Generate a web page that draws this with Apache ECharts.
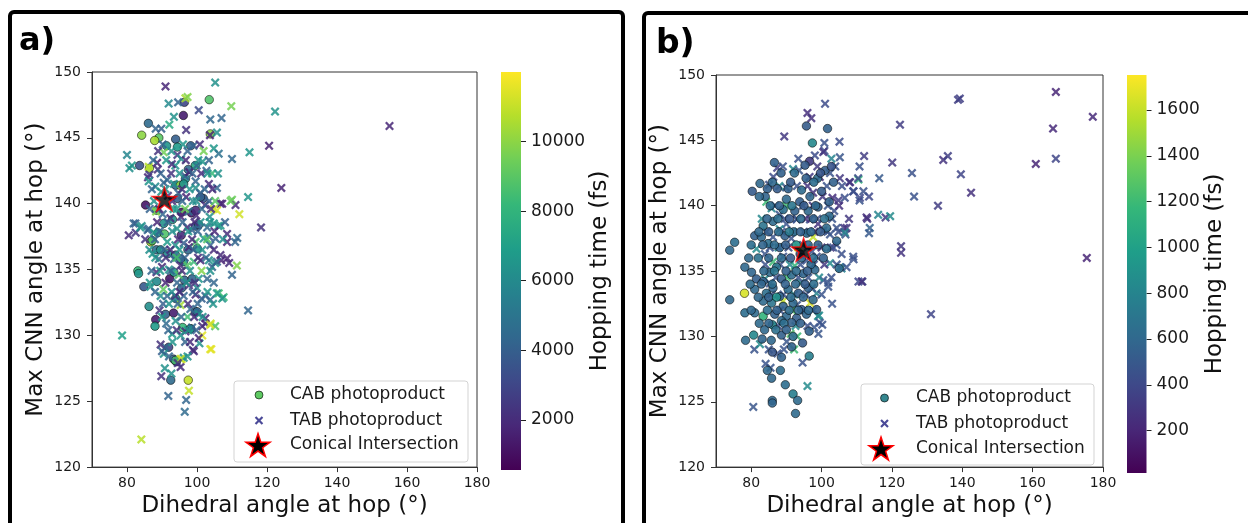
<!DOCTYPE html>
<html>
<head>
<meta charset="utf-8">
<script src="https://cdn.jsdelivr.net/npm/echarts@6/dist/echarts.min.js"></script>
<style>
html,body{margin:0;padding:0;background:#fff;}
#chart{width:1248px;height:523px;}
</style>
</head>
<body>
<div id="chart"></div>
<script>
// ---------- DATA ----------
const xTicks = [80, 100, 120, 140, 160, 180];
const yTicks = [120, 125, 130, 135, 140, 145, 150];
const cbATicks = [2000, 4000, 6000, 8000, 10000];
const cbBTicks = [200, 400, 600, 800, 1000, 1200, 1400, 1600];
const cbARange = [560, 12000];
const cbBRange = [15, 1753];
const legendNames = ['CAB photoproduct', 'TAB photoproduct', 'Conical Intersection'];

// Panel a: [dihedral, max CNN angle, hopping time]
const cabA = [
[103.5,147.9,8800],[96.4,147.7,3000],[96.1,146.7,1500],[86.1,146.1,4500],[84.2,145.2,10000],[89.1,145.0,9000],[87.9,144.8,10500],[103.8,145.3,10000],[93.9,144.9,4000],[91.3,144.4,6500],[98.2,144.4,4200],[94.4,144.3,6800],[83.6,142.9,3500],[86.4,142.7,10500],[99.5,142.9,7500],[97.5,142.6,4500],[85.3,139.9,1200],[88.5,139.5,8500],[95.6,139.35,1000],[101.8,140.4,3800],[93.9,141.4,4200],[96.7,141.9,6500],[95.2,141.4,10000],[99.5,138.3,4000],[88.8,137.8,6000],[90.7,137.7,8800],[86.8,137.1,10500],[88.4,136.5,4500],[91.6,136.2,6200],[93.9,136.1,4300],[96.1,135.6,6800],[100.1,136.6,6400],[83.1,134.9,8200],[83.3,134.7,6500],[84.8,133.7,3800],[88.5,134.1,6000],[92.2,134.3,1200],[95.6,133.6,4200],[86.3,132.2,6200],[88.2,131.2,1500],[91.0,131.6,4200],[93.3,131.7,1500],[99.5,131.8,4000],[88.0,130.7,6800],[95.9,130.6,8200],[98.2,130.5,6500],[91.9,129.1,3000],[93.3,128.2,4000],[94.1,128.0,1800],[92.5,126.6,4500],[97.5,126.6,11000],[94.4,140.4,4000],[98.4,139.3,1500],[93.0,138.8,6500],[95.5,137.6,2000],[97.4,136.5,4500],[93.4,134.8,6400],[96.4,134.2,4300],[93.9,132.8,6200],[90.5,138.5,6400],[87.2,137.2,8600],[89.6,136.5,6300],[95.3,135.8,4400],[98.6,134.3,4200],[100.0,131.8,4300],[98.1,130.5,6600],[100.5,138.4,4300],[101.0,140.5,4100],[96.2,141.5,6400],[99.6,139.5,1900],[93.8,128.1,8600]
];
const tabA = [
[105.2,149.2,6300],[91.0,148.9,1800],[96.7,148.0,10500],[97.3,148.1,9800],[91.9,147.6,6000],[94.6,147.7,4200],[100.5,147.1,3200],[109.8,147.4,9600],[122.3,147.0,6400],[93.4,146.6,6300],[103.8,146.4,4400],[107.0,146.5,4300],[88.2,145.7,4200],[89.8,145.7,4000],[92.1,146.0,7500],[96.9,145.6,2200],[105.7,145.4,6200],[103.7,145.2,1800],[155.0,145.9,1800],[120.6,144.4,1600],[80.0,143.7,5800],[104.8,144.2,6600],[106.2,143.8,4800],[110.0,143.4,4400],[115.0,143.9,6500],[99.0,144.4,4200],[90.5,143.9,9500],[94.4,143.7,2400],[80.7,142.7,6200],[81.4,142.9,6600],[86.2,142.8,10800],[88.6,143.1,1600],[88.8,142.6,2200],[86.0,142.0,1800],[86.4,142.2,2500],[91.5,141.8,4200],[93.8,142.9,6400],[101.6,143.2,6600],[104.3,142.3,8200],[106.0,142.3,6300],[96.6,142.1,4000],[99.6,141.7,4300],[88.1,141.3,6000],[105.7,141.2,4300],[124.1,141.2,1700],[110.0,140.3,9400],[114.6,140.5,6500],[106.7,140.0,1800],[111.0,139.9,1900],[112.1,139.2,11200],[118.3,138.2,2200],[104.8,139.6,11000],[82.4,138.5,4000],[80.5,137.6,2000],[82.5,137.8,2300],[84.2,138.3,6200],[85.9,138.0,4300],[106.1,138.3,6400],[108.6,137.1,1800],[111.5,137.4,4500],[110.9,137.1,4200],[103.4,137.5,4000],[111.4,135.3,9800],[109.2,135.5,2000],[106.9,135.7,1700],[105.2,135.5,6400],[110.0,134.6,4200],[114.6,131.9,4300],[106.2,133.2,8500],[107.6,132.9,8200],[103.8,132.7,4200],[101.3,132.8,4000],[102.4,130.9,2100],[103.9,130.9,11200],[105.2,130.7,8800],[101.5,130.0,11500],[100.7,129.4,6300],[78.6,130.0,7000],[104.1,128.95,11600],[98.8,128.9,2300],[91.0,129.1,4300],[90.5,128.6,6300],[95.6,128.2,11300],[95.3,127.6,1900],[90.8,127.5,6300],[89.8,126.9,2200],[97.7,125.8,11000],[96.9,125.1,4300],[91.8,125.4,4200],[96.5,124.2,4500],[84.1,122.1,10800],
[86.2,141.7,6500],[90.5,141.6,4300],[93.4,141.5,6400],[99.6,141.2,6200],[103.4,141.5,1900],[107.2,140.0,1700],[109.6,140.2,9300],[105.7,139.5,11400],[81.9,138.5,4100],[83.8,138.2,6400],[86.2,138.1,4200],[87.7,137.8,6600],[92.4,138.9,2000],[94.3,138.1,6300],[97.2,138.2,1700],[98.6,138.0,4200],[101.0,138.6,6200],[102.9,138.2,4400],[104.8,138.5,6500],[106.7,138.35,6800],[108.6,137.7,1900],[105.3,137.35,4100],[103.8,136.85,4300],[101.9,137.35,6600],[99.6,137.1,8600],[97.7,136.7,1800],[96.2,137.0,4000],[93.8,136.85,6200],[91.5,137.1,6700],[93.4,135.8,4300],[95.3,135.3,2100],[97.2,135.3,8900],[99.1,135.6,8300],[101.0,135.7,2000],[103.4,135.7,6300],[105.7,135.6,4200],[106.7,136.1,1900],[108.6,135.85,1700],[104.3,135.2,4100],[90.0,135.2,1900],[92.0,135.0,6400],[94.8,134.6,8800],[100.5,134.3,6500],[102.9,134.3,4300],[97.7,133.8,2200],[100.0,133.6,6100],[89.6,133.0,6200],[91.5,133.0,4200],[93.8,133.0,2300],[96.2,133.0,4300],[99.6,133.1,1900],[102.4,133.0,4100],[105.7,133.2,6600],[107.2,132.8,6400],[95.3,132.3,10400],[98.1,132.0,4300],[100.5,131.6,6300],[102.4,131.3,1800],[103.8,130.8,11300],[101.5,130.7,2000],[98.6,130.6,4200],[96.7,130.3,2100],[95.3,130.0,6500],[92.9,130.1,6700],[100.5,129.8,1800],[103.8,128.95,11500],[99.1,128.8,1900],[96.2,128.3,6400],[89.6,129.3,2200],[90.0,128.8,4000],[95.3,128.2,11000],
[92.8,143.0,2000],[95.5,143.4,6200],[97.8,142.4,1700],[99.9,142.9,4400],[102.7,142.5,4100],[89.8,140.9,6500],[91.7,140.6,2400],[94.7,140.8,4200],[96.9,140.5,1700],[98.8,140.2,6100],[100.9,140.8,4000],[102.3,139.9,2100],[88.3,139.4,9800],[90.2,139.2,4300],[93.3,139.6,6800],[95.4,139.0,2000],[97.6,139.4,4400],[99.8,139.1,1900],[103.6,139.0,6300],[87.3,136.2,6400],[89.1,135.8,4200],[88.4,134.8,2000],[86.7,133.7,6500],[90.4,133.5,9200],[89.3,131.9,2300],[91.2,130.9,4500],[93.9,131.1,6200],[97.3,131.4,8400],[92.7,127.1,6300],[94.5,127.9,2300],
[90.2,144.5,4300],[96.0,144.5,6500],[100.8,144.5,2100],[88.9,144.0,2200],[92.7,144.0,6400],[97.3,144.0,4100],[101.9,144.0,9600],[87.5,143.3,4500],[91.2,143.3,6600],[96.8,143.3,1900],[100.4,143.3,6300],[103.4,143.3,4200],[89.6,142.3,4100],[92.6,142.3,2300],[95.0,142.3,6300],[98.7,142.3,4200],[101.2,142.3,2000],[103.0,142.3,6500],[87.1,141.1,4300],[91.0,141.1,6200],[95.7,141.1,2200],[97.9,141.1,6400],[102.2,141.1,4300],[104.4,141.1,1900],[87.7,140.2,6300],[92.9,140.2,1900],[95.8,140.2,4400],[99.8,140.2,6200],[103.5,140.2,4100],[105.2,140.2,9000],[86.5,139.6,4100],[89.2,139.6,2100],[94.2,139.6,6600],[96.6,139.6,9400],[101.4,139.6,4400],[104.0,139.6,2000],[88.6,138.6,1800],[91.6,138.6,4200],[95.9,138.6,4300],[99.3,138.6,2000],[103.7,138.6,6300],[108.0,138.6,4100],[89.3,137.9,4300],[92.9,137.9,6200],[97.5,137.9,6400],[100.2,137.9,4200],[105.0,137.9,1800],[85.2,137.3,2200],[88.0,137.3,4100],[94.6,137.3,2000],[98.6,137.3,1900],[102.9,137.3,8900],[107.4,137.3,6200],[86.4,136.5,6200],[90.6,136.5,4200],[92.4,136.5,1900],[95.0,136.5,6500],[99.0,136.5,4300],[101.5,136.5,6300],[104.8,136.5,2000],[88.1,135.9,6400],[91.1,135.9,2200],[94.2,135.9,8600],[96.5,135.9,4100],[100.3,135.9,2100],[102.6,135.9,4300],[87.0,134.9,4200],[89.5,134.9,6600],[92.5,134.9,4300],[95.7,134.9,2000],[98.0,134.9,6200],[101.3,134.9,9800],[103.8,134.9,6300],[86.5,134.0,6400],[91.0,134.0,1800],[94.3,134.0,4200],[97.0,134.0,6500],[99.4,134.0,2300],[104.8,134.0,4300],[88.0,133.3,4300],[92.8,133.3,6200],[95.0,133.3,2000],[98.8,133.3,4100],[103.0,133.3,6600],[90.3,132.4,4000],[92.0,132.4,6300],[94.5,132.4,4200],[97.4,132.4,2100],[100.2,132.4,4300],[104.6,132.4,6400],[90.0,131.4,6600],[95.5,131.4,4300],[99.2,131.4,2000],[101.6,131.4,6200],[91.8,130.4,4200],[94.2,130.4,2200],[97.5,130.4,6300],[99.8,130.4,4100],[93.0,129.5,6400],[96.6,129.5,4200],[98.0,129.5,1900],[92.0,128.4,4300],[97.3,128.4,6300]
];
const starA = [[90.7, 140.35]];

// Panel b
const cabB = [
[95.7,146.1,520],[101.7,145.9,560],[97.4,144.8,820],[86.6,143.3,560],[96.6,143.4,320],[95.3,143.1,520],[101.0,142.7,540],[102.8,143.0,470],[98.9,142.1,620],[95.6,142.1,560],[82.5,141.7,600],[84.6,141.3,560],[80.3,141.1,520],[84.0,140.7,580],[82.3,140.7,600],[87.4,141.3,520],[90.5,141.3,560],[94.3,141.2,620],[93.8,140.3,540],[96.7,140.7,580],[90.0,140.5,600],[100.0,141.1,520],[89.1,139.7,640],[92.4,139.6,560],[96.2,139.6,600],[102.2,140.3,560],[102.2,139.2,620],[83.4,138.45,680],[86.2,138.8,620],[81.0,137.7,560],[82.9,137.6,600],[75.3,137.2,640],[73.9,136.6,600],[84.8,137.1,650],[88.1,136.8,560],[101.4,136.7,640],[104.3,137.3,600],[78.2,135.3,600],[80.1,134.9,580],[81.5,134.4,540],[85.3,134.9,620],[87.2,135.3,680],[83.4,134.2,560],[88.6,134.4,540],[91.5,134.7,620],[94.8,134.8,580],[98.1,135.1,600],[81.0,133.6,600],[78.1,133.3,1650],[73.9,132.8,600],[84.3,133.3,650],[86.2,133.7,580],[88.1,133.05,560],[90.5,133.6,620],[93.4,133.3,540],[96.2,133.7,560],[97.6,132.8,600],[83.4,132.7,620],[85.8,132.55,680],[89.1,132.3,560],[91.9,132.55,600],[94.3,132.05,520],[78.2,131.8,640],[81.0,131.8,620],[83.4,131.55,1150],[86.7,131.7,560],[90.0,131.55,600],[92.9,131.4,540],[95.7,131.7,580],[98.6,132.05,560],[88.6,131.2,620],[91.5,131.05,560],[86.0,130.9,820],[80.7,130.1,820],[78.4,129.7,620],[83.1,129.8,580],[85.7,129.7,600],[88.6,130.1,560],[91.9,130.0,620],[96.5,130.4,560],[91.5,129.2,560],[94.6,129.5,520],[86.0,128.8,480],[88.6,128.4,560],[96.5,128.5,760],[84.6,127.4,600],[88.3,127.4,640],[85.8,126.8,600],[89.7,126.3,640],[91.9,125.6,760],[93.2,125.1,620],[86.0,125.1,600],[86.0,124.9,580],[92.6,124.1,620],[105.0,135.2,620],[101.4,138.3,620],[99.0,139.9,560],[92.1,138.0,600],[95.8,137.9,620],[89.6,137.7,560],[93.9,136.3,540],[97.0,135.5,600],
[88.5,142.5,560],[92.3,142.5,620],[99.7,142.5,480],[86.0,141.8,600],[91.2,141.8,520],[97.8,141.8,640],[103.4,141.8,560],[85.4,140.0,620],[88.0,140.0,560],[91.6,140.0,700],[95.0,140.0,520],[98.3,140.0,600],[84.5,139.0,580],[87.6,139.0,640],[90.9,139.0,500],[94.1,139.0,620],[97.7,139.0,560],[100.8,139.0,660],[82.2,138.0,600],[85.0,138.0,540],[87.8,138.0,620],[90.8,138.0,720],[94.0,138.0,560],[97.0,138.0,600],[99.7,138.0,520],[80.0,137.0,640],[83.3,137.0,580],[86.6,137.0,620],[89.8,137.0,540],[92.8,137.0,900],[96.2,137.0,600],[99.0,137.0,560],[79.3,136.0,600],[82.0,136.0,660],[85.0,136.0,580],[88.6,136.0,620],[91.2,136.0,520],[94.3,136.0,600],[97.7,136.0,640],[100.5,136.0,560],[83.6,135.0,600],[86.6,135.0,700],[89.9,135.0,560],[92.8,135.0,620],[96.0,135.0,540],[79.7,134.0,620],[82.9,134.0,580],[86.0,134.0,640],[89.7,134.0,560],[92.6,134.0,600],[95.3,134.0,520],[97.8,134.0,640],[82.0,133.0,600],[85.0,133.0,560],[87.2,133.0,900],[91.3,133.0,620],[94.8,133.0,580],[80.0,132.0,600],[84.6,132.0,640],[87.3,132.0,560],[90.8,132.0,620],[93.4,132.0,580],[96.3,132.0,600],[82.3,131.0,620],[85.0,131.0,580],[89.3,131.0,640],[94.0,131.0,560],[83.8,130.5,600],[87.0,130.5,660],[90.0,130.5,560]
];
const tabB = [
[166.6,148.7,200],[138.8,148.1,350],[139.3,148.2,350],[101.0,147.8,420],[177.1,146.8,220],[96.0,147.1,250],[97.1,146.7,260],[122.3,146.2,330],[165.8,145.9,220],[89.4,145.3,300],[105.1,144.9,420],[100.8,144.8,450],[100.8,144.2,430],[166.6,143.6,380],[160.9,143.2,200],[134.6,143.5,280],[135.9,143.8,350],[120.1,143.3,300],[112.1,143.8,330],[110.8,143.0,450],[125.7,142.5,450],[139.6,142.4,380],[116.4,142.1,500],[110.5,142.0,1150],[107.9,141.8,350],[142.5,141.0,260],[126.3,140.7,460],[113.5,140.7,400],[110.8,140.4,470],[109.1,141.1,430],[133.1,140.0,330],[116.1,139.3,800],[118.2,139.1,300],[119.5,139.2,850],[113.0,139.0,300],[113.7,138.3,550],[113.5,137.9,500],[106.4,138.3,300],[106.8,137.8,480],[122.6,136.9,300],[122.6,136.4,280],[175.4,136.0,200],[109.1,135.9,450],[105.7,136.3,440],[105.7,135.2,800],[110.5,134.2,400],[111.6,134.2,420],[101.9,134.1,480],[103.0,132.5,460],[131.1,131.7,380],[99.3,131.6,850],[100.2,130.9,470],[97.9,130.7,480],[80.9,129.0,470],[96.0,126.2,850],[80.6,124.6,480],
[93.4,143.6,450],[98.1,143.85,420],[100.5,144.1,280],[102.8,143.6,800],[105.2,143.7,480],[91.9,142.8,820],[93.6,142.7,480],[99.5,142.2,250],[102.4,142.5,470],[105.2,142.1,300],[108.1,141.8,280],[110.4,142.1,420],[111.9,141.1,450],[109.0,141.1,430],[106.6,140.6,440],[110.9,140.6,400],[112.8,139.1,250],[107.1,138.3,280],[106.6,137.95,800],[104.3,138.3,450],[102.4,137.8,470],[100.5,138.1,430],[97.6,137.6,1600],[99.0,138.6,260],[96.7,138.95,450],[92.9,138.95,430],[90.0,138.6,460],[88.1,138.2,820],[86.2,137.6,470],[81.5,136.7,850],[83.9,136.3,480],[86.2,135.7,1200],[89.1,136.1,450],[92.4,135.4,1150],[95.7,135.8,460],[98.6,136.1,440],[102.4,135.6,830],[105.2,135.3,800],[107.1,135.3,470],[109.0,136.1,450],[111.4,134.2,260],[100.5,134.3,460],[101.9,133.8,470],[98.6,133.3,800],[96.7,132.55,1650],[93.0,132.4,480],[89.1,132.7,1600],[83.9,134.4,830],[85.3,134.05,470],[99.0,131.55,840],[99.5,131.05,460],[84.3,140.3,1200],[85.8,139.8,820],[88.1,139.3,470],
[86.3,142.2,420],[87.4,142.9,350],[85.1,141.6,450],[89.9,141.4,480],[96.6,142.2,300],[97.6,141.0,280],[100.3,140.7,300],[103.1,140.6,250],[104.8,140.4,320],[103.6,139.6,450],[104.3,137.0,460],[102.6,136.8,300],[91.4,137.5,460],[94.7,137.0,480],[97.3,136.5,470],[94.1,134.1,820],[97.3,133.7,460],[91.2,130.2,1250],[93.1,130.0,1200],[90.1,129.6,480],[84.1,127.9,470],[85.5,127.6,480],[87.5,128.7,460],[82.5,129.4,850],[94.6,128.0,460],[99.1,130.2,480],
[89.0,143.0,450],[98.8,143.0,300],[103.9,143.0,460],[88.0,141.5,820],[93.0,141.5,450],[96.0,141.5,280],[101.5,141.5,470],[105.8,141.5,430],[86.8,140.0,460],[90.0,140.0,1200],[94.7,140.0,450],[97.5,140.0,300],[101.8,140.0,470],[105.0,140.0,260],[83.0,139.0,820],[89.5,139.0,460],[93.0,139.0,480],[95.5,139.0,270],[98.8,139.0,450],[103.0,139.0,470],[107.8,139.0,300],[84.3,138.0,470],[88.7,138.0,450],[91.8,138.0,830],[95.0,138.0,460],[98.0,138.0,300],[101.7,138.0,480],[104.8,138.0,450],[85.3,136.8,460],[87.8,136.8,820],[90.6,136.8,450],[93.4,136.8,1600],[96.0,136.8,470],[100.0,136.8,280],[103.3,136.8,460],[84.0,135.5,450],[88.3,135.5,470],[91.0,135.5,820],[94.0,135.5,460],[97.8,135.5,450],[100.8,135.5,300],[104.3,135.5,470],[87.0,134.5,460],[90.2,134.5,1200],[93.4,134.5,450],[96.2,134.5,470],[99.3,134.5,820],[102.8,134.5,450],[85.8,133.2,470],[89.2,133.2,460],[92.2,133.2,850],[95.6,133.2,450],[100.0,133.2,470],[88.2,132.0,460],[91.6,132.0,1250],[94.9,132.0,450],[97.6,132.0,480],[87.7,130.8,460],[92.6,130.8,830],[96.0,130.8,450],[85.0,129.0,470],[89.3,129.0,460],[92.2,129.0,1200]
];
const starB = [[94.9, 136.64]];

// ---------- STYLE ----------
const FONT = 'DejaVu Sans';
const viridis = ['#440154','#482878','#3e4989','#31688e','#26828e','#1f9e89','#35b779','#6ece58','#b5de2b','#fde725'];
const xPts = [[0,1.8],[1.8,0],[5,3.2],[8.2,0],[10,1.8],[6.8,5],[10,8.2],[8.2,10],[5,6.8],[1.8,10],[0,8.2],[3.2,5]];
const xPath = 'path://M' + xPts.map(p => p.join(',')).join('L') + 'Z';
const starPts = [[50,0],[61.23,34.55],[97.55,34.55],[68.16,55.9],[79.39,90.45],[50,69.1],[20.61,90.45],[31.84,55.9],[2.45,34.55],[38.77,34.55]];
const starPath = 'path://M' + starPts.map(p => p.join(',')).join('L') + 'Z';

const chart = echarts.init(document.getElementById('chart'), null, {renderer: 'canvas'});

function gradientStops() {
  return viridis.map((c, i) => ({offset: i / (viridis.length - 1), color: c}));
}

function mainX(gi) {
  return {
    type: 'value', gridIndex: gi, min: 70, max: 180,
    axisLine: {show: true, onZero: false, lineStyle: {color: '#333', width: 1}},
    axisTick: {show: true, length: 5, customValues: xTicks, lineStyle: {color: '#333'}},
    axisLabel: {customValues: xTicks, fontSize: 14, color: '#1a1a1a', margin: 9, fontFamily: FONT},
    splitLine: {show: false},
    name: 'Dihedral angle at hop (°)', nameLocation: 'middle', nameGap: 27,
    nameTextStyle: {fontSize: 23, color: '#111', fontFamily: FONT}
  };
}
function mainY(gi) {
  return {
    type: 'value', gridIndex: gi, min: 120, max: 150, interval: 5,
    axisLine: {show: true, onZero: false, lineStyle: {color: '#333', width: 1}},
    axisTick: {show: true, length: 5, lineStyle: {color: '#333'}},
    axisLabel: {fontSize: 14, color: '#1a1a1a', margin: 11, fontFamily: FONT},
    splitLine: {show: false},
    name: 'Max CNN angle at hop (°)', nameLocation: 'middle', nameRotate: 90, nameGap: 44,
    nameTextStyle: {fontSize: 23, color: '#111', fontFamily: FONT}
  };
}
function cbX(gi) {
  return {type: 'category', gridIndex: gi, data: ['cb'], show: false, boundaryGap: true};
}
function cbY(gi, range, ticks, gap) {
  return {
    type: 'value', gridIndex: gi, min: range[0], max: range[1], position: 'right',
    axisLine: {show: false},
    axisTick: {show: true, length: 5, customValues: ticks, lineStyle: {color: '#222'}},
    axisLabel: {customValues: ticks, fontSize: 17, color: '#1a1a1a', margin: 10, fontFamily: FONT,
                formatter: v => String(v)},
    splitLine: {show: false},
    name: 'Hopping time (fs)', nameLocation: 'middle', nameRotate: 90, nameGap: gap,
    nameTextStyle: {fontSize: 23, color: '#111', fontFamily: FONT}
  };
}

function scalePts(pts, cx, cy, s, ox, oy) {
  return pts.map(p => [cx + (p[0] - ox) * s, cy + (p[1] - oy) * s]);
}

function legendGraphics(box, cx, cyList, textX, cabColor, tabColor, starCx) {
  const els = [];
  els.push({type: 'rect', z: 50, shape: {x: box[0], y: box[1], width: box[2], height: box[3], r: 3},
            style: {fill: 'rgba(255,255,255,0.85)', stroke: '#d3d3d3', lineWidth: 1}});
  els.push({type: 'circle', z: 51, shape: {cx: cx, cy: cyList[0], r: 4},
            style: {fill: cabColor, stroke: 'rgba(0,0,0,0.75)', lineWidth: 0.8}});
  els.push({type: 'polygon', z: 51, shape: {points: scalePts(xPts, cx, cyList[1], 0.85, 5, 5)},
            style: {fill: tabColor}});
  els.push({type: 'polygon', z: 51, shape: {points: scalePts(starPts, starCx, cyList[2], 24 / 95.1, 50, 45.2)},
            style: {fill: '#000', stroke: '#ff0000', lineWidth: 1.5}});
  legendNames.forEach((n, i) => {
    els.push({type: 'text', z: 52, x: textX, y: cyList[i],
              style: {text: n, fontSize: 17, fontFamily: FONT, fill: '#1a1a1a', verticalAlign: 'middle', align: 'left'}});
  });
  return els;
}

const option = {
  animation: false,
  textStyle: {fontFamily: FONT},
  grid: [
    {left: 92, top: 72, width: 385, height: 399, show: true, borderColor: '#333', borderWidth: 1, backgroundColor: 'transparent'},
    {left: 501, top: 72, width: 20, height: 398, show: false},
    {left: 716, top: 75, width: 387, height: 398, show: true, borderColor: '#333', borderWidth: 1, backgroundColor: 'transparent'},
    {left: 1127, top: 75, width: 19.5, height: 398, show: false}
  ],
  xAxis: [mainX(0), cbX(1), mainX(2), cbX(3)],
  yAxis: [mainY(0), cbY(1, cbARange, cbATicks, 67), mainY(2), cbY(3, cbBRange, cbBTicks, 56)],
  visualMap: [
    {type: 'continuous', show: false, min: cbARange[0], max: cbARange[1], dimension: 2, seriesIndex: [0, 1], inRange: {color: viridis}},
    {type: 'continuous', show: false, min: cbBRange[0], max: cbBRange[1], dimension: 2, seriesIndex: [3, 4], inRange: {color: viridis}}
  ],
  series: [
    {name: legendNames[0], type: 'scatter', xAxisIndex: 0, yAxisIndex: 0, data: cabA, symbol: 'circle', symbolSize: 8.5,
     itemStyle: {borderColor: 'rgba(0,0,0,0.75)', borderWidth: 0.8, opacity: 0.9}, z: 2},
    {name: legendNames[1], type: 'scatter', xAxisIndex: 0, yAxisIndex: 0, data: tabA, symbol: xPath, symbolSize: 9,
     itemStyle: {opacity: 0.85}, z: 3},
    {name: legendNames[2], type: 'scatter', xAxisIndex: 0, yAxisIndex: 0, data: starA, symbol: starPath, symbolKeepAspect: true, symbolSize: 24,
     itemStyle: {color: '#000', borderColor: '#ff0000', borderWidth: 1.5}, z: 5},
    {name: legendNames[1], type: 'scatter', xAxisIndex: 2, yAxisIndex: 2, data: tabB, symbol: xPath, symbolSize: 9,
     itemStyle: {opacity: 0.85}, z: 2},
    {name: legendNames[0], type: 'scatter', xAxisIndex: 2, yAxisIndex: 2, data: cabB, symbol: 'circle', symbolSize: 8.5,
     itemStyle: {borderColor: 'rgba(0,0,0,0.75)', borderWidth: 0.8, opacity: 0.9}, z: 3},
    {name: legendNames[2], type: 'scatter', xAxisIndex: 2, yAxisIndex: 2, data: starB, symbol: starPath, symbolKeepAspect: true, symbolSize: 24,
     itemStyle: {color: '#000', borderColor: '#ff0000', borderWidth: 1.5}, z: 5},
    {type: 'bar', xAxisIndex: 1, yAxisIndex: 1, data: [cbARange[1]], barWidth: '100%', silent: true,
     itemStyle: {color: new echarts.graphic.LinearGradient(0, 1, 0, 0, gradientStops())}},
    {type: 'bar', xAxisIndex: 3, yAxisIndex: 3, data: [cbBRange[1]], barWidth: '100%', silent: true,
     itemStyle: {color: new echarts.graphic.LinearGradient(0, 1, 0, 0, gradientStops())}}
  ],
  graphic: {elements: [
    {type: 'rect', z: 40, shape: {x: 10, y: 12, width: 613, height: 560, r: 4}, style: {fill: 'none', stroke: '#000', lineWidth: 4}},
    {type: 'rect', z: 40, shape: {x: 644, y: 13, width: 700, height: 560, r: 4}, style: {fill: 'none', stroke: '#000', lineWidth: 4}},
    {type: 'text', z: 45, x: 19, y: 42, style: {text: 'a)', fontSize: 32, fontWeight: 'bold', fontFamily: FONT, fill: '#000', verticalAlign: 'middle'}},
    {type: 'text', z: 45, x: 656, y: 44, style: {text: 'b)', fontSize: 33, fontWeight: 'bold', fontFamily: FONT, fill: '#000', verticalAlign: 'middle'}}
  ].concat(
    legendGraphics([234, 381, 234, 81], 259, [395, 420.5, 445], 290, '#5ec962', '#4b4a98', 258),
    legendGraphics([861, 384, 233, 81], 884.5, [398, 423.5, 448.5], 916, '#35878f', '#4b4a98', 881)
  )}
};
chart.setOption(option);
</script>
</body>
</html>
